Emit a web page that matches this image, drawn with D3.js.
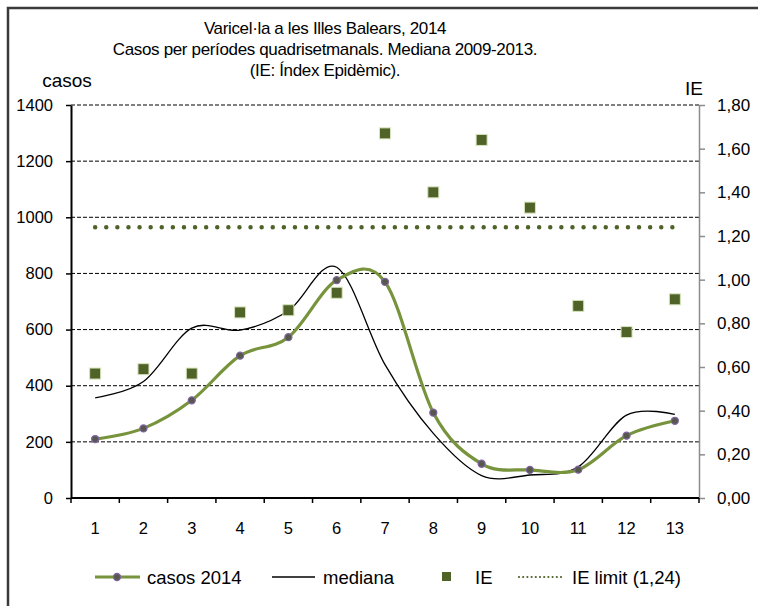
<!DOCTYPE html>
<html>
<head>
<meta charset="utf-8">
<script src="https://cdn.jsdelivr.net/npm/d3@7"></script>
<style>
  body { margin: 0; background: #fff; }
  text { font-family: "Liberation Sans", Arial, sans-serif; fill: #000; }
</style>
</head>
<body>
<div id="chart"></div>
<script>
// periods (4-week) and values
var periodes = ["1","2","3","4","5","6","7","8","9","10","11","12","13"];
var casos2014 = [210, 248, 348, 507, 573, 776, 770, 304, 122, 100, 101, 222, 275];
var mediana = [357, 415, 605, 598, 667, 822, 475, 230, 80, 82, 111, 295, 298];
var ie = [0.57, 0.59, 0.57, 0.85, 0.86, 0.94, 1.67, 1.40, 1.64, 1.33, 0.88, 0.76, 0.91];
var ieLimit = 1.24;
var casosTicks = [0, 200, 400, 600, 800, 1000, 1200, 1400];
var ieTicks = [0, 0.2, 0.4, 0.6, 0.8, 1.0, 1.2, 1.4, 1.6, 1.8];
var titleLines = ["Varicel·la a les Illes Balears, 2014",
  "Casos per períodes quadrisetmanals. Mediana 2009-2013.",
  "(IE: Índex Epidèmic)."];

(function() {
  var width = 758,
     height = 606;
  var left = 71, right = 699, top = 105, bottom = 498;

  var green = "#77933c", olive = "#4f6228", purple = "#8064a2";

  var svg = d3.select("#chart")
  .append("svg")
  .attr("width", width)
  .attr("height", height);

  // outer frame
  svg.append("rect")
  .attr("x", 8).attr("y", 8)
  .attr("width", 800).attr("height", 700)
  .attr("fill", "none")
  .attr("stroke", "#3a3a3a")
  .attr("stroke-width", 2.5);

  var x = d3.scaleBand().domain(periodes).range([left, right]);
  var cx = function(d) { return x(d) + x.bandwidth() / 2; };
  var y = d3.scaleLinear().domain([0, 1400]).range([bottom, top]);
  var y2 = d3.scaleLinear().domain([0, 1.8]).range([bottom, top]);

  // title
  svg.append("g").selectAll("text")
  .data(titleLines)
  .enter()
  .append("text")
  .attr("x", 325)
  .attr("y", function(d, i) { return 34 + i * 21; })
  .attr("text-anchor", "middle")
  .attr("font-size", 17)
  .attr("letter-spacing", -0.35)
  .text(function(d) { return d; });

  svg.append("text").attr("x", 67).attr("y", 87)
  .attr("text-anchor", "middle").attr("font-size", 19).text("casos");
  svg.append("text").attr("x", 694).attr("y", 95)
  .attr("text-anchor", "middle").attr("font-size", 19).text("IE");

  // gridlines
  svg.append("g").selectAll("line")
  .data(casosTicks.filter(function(d) { return d > 0; }))
  .enter()
  .append("line")
  .attr("x1", left).attr("x2", right)
  .attr("y1", function(d) { return y(d); })
  .attr("y2", function(d) { return y(d); })
  .attr("stroke", "#000")
  .attr("stroke-width", 1)
  .attr("stroke-dasharray", "4,2");

  // right axis (IE)
  var axR = svg.append("g")
  .attr("transform", "translate(" + right + ",0)")
  .call(d3.axisRight(y2).tickValues(ieTicks).tickSize(6).tickSizeOuter(0).tickPadding(12)
    .tickFormat(function(d) { return d.toFixed(2).replace(".", ","); }));
  axR.select(".domain").attr("stroke", "#8c8c8c").attr("stroke-width", 1.5);
  axR.selectAll(".tick line").attr("stroke", "#8c8c8c").attr("stroke-width", 1.5);
  axR.selectAll("text").attr("font-size", 17).attr("font-family", "Liberation Sans, Arial, sans-serif");

  // left axis
  var axL = svg.append("g")
  .attr("transform", "translate(" + left + ",0)")
  .call(d3.axisLeft(y).tickValues(casosTicks).tickSize(5).tickSizeOuter(0).tickPadding(13)
    .tickFormat(d3.format("d")));
  axL.select(".domain").attr("stroke", "#000").attr("stroke-width", 2);
  axL.selectAll(".tick line").attr("stroke-width", 1.5);
  axL.selectAll("text").attr("font-size", 16.5).attr("font-family", "Liberation Sans, Arial, sans-serif");

  // bottom axis: labels centred, ticks at band edges
  var axB = svg.append("g")
  .attr("transform", "translate(0," + bottom + ")")
  .call(d3.axisBottom(x).tickSize(0).tickPadding(24));
  axB.select(".domain").remove();
  axB.selectAll("text").attr("font-size", 16.5).attr("font-family", "Liberation Sans, Arial, sans-serif");
  var edges = periodes.map(function(d) { return x(d); }).concat([x.range()[1]]);
  svg.append("g").selectAll("line")
  .data(edges)
  .enter()
  .append("line")
  .attr("x1", function(d) { return d; }).attr("x2", function(d) { return d; })
  .attr("y1", bottom).attr("y2", bottom + 5)
  .attr("stroke", "#000").attr("stroke-width", 1.5);
  svg.append("line")
  .attr("x1", left).attr("x2", right)
  .attr("y1", bottom).attr("y2", bottom)
  .attr("stroke", "#000").attr("stroke-width", 2);

  // IE limit dotted line
  svg.append("line")
  .attr("x1", cx(periodes[0])).attr("x2", cx(periodes[periodes.length - 1]))
  .attr("y1", y2(ieLimit)).attr("y2", y2(ieLimit))
  .attr("stroke", olive)
  .attr("stroke-width", 4.5)
  .attr("stroke-linecap", "round")
  .attr("stroke-dasharray", "0,11.1");

  // mediana line
  var smooth = d3.line()
  .x(function(d, i) { return cx(periodes[i]); })
  .y(function(d) { return y(d); })
  .curve(d3.curveCardinal.tension(0));
  svg.append("path")
  .attr("d", smooth(mediana))
  .attr("fill", "none")
  .attr("stroke", "#000")
  .attr("stroke-width", 1.3);

  // IE squares
  svg.append("g").selectAll("rect")
  .data(ie)
  .enter()
  .append("rect")
  .attr("x", function(d, i) { return cx(periodes[i]) - 5.5; })
  .attr("y", function(d) { return y2(d) - 5.5; })
  .attr("width", 11).attr("height", 11)
  .attr("fill", olive)
  .attr("stroke", "#d7e4bd")
  .attr("stroke-width", 1);

  // casos 2014 line + markers
  svg.append("path")
  .attr("d", smooth(casos2014))
  .attr("fill", "none")
  .attr("stroke", green)
  .attr("stroke-width", 3.2);
  svg.append("g").selectAll("circle")
  .data(casos2014)
  .enter()
  .append("circle")
  .attr("cx", function(d, i) { return cx(periodes[i]); })
  .attr("cy", function(d) { return y(d); })
  .attr("r", 3.5)
  .attr("fill", "#55584a")
  .attr("stroke", purple)
  .attr("stroke-width", 1.3);

  // legend
  var ly = 577;
  var leg = svg.append("g").attr("font-size", 18.5);
  leg.append("line").attr("x1", 95).attr("x2", 140).attr("y1", ly).attr("y2", ly)
  .attr("stroke", green).attr("stroke-width", 3.2);
  leg.append("circle").attr("cx", 117).attr("cy", ly).attr("r", 3.5)
  .attr("fill", "#55584a").attr("stroke", purple).attr("stroke-width", 1.3);
  leg.append("text").attr("x", 147).attr("y", ly + 7).text("casos 2014");

  leg.append("line").attr("x1", 272).attr("x2", 315).attr("y1", ly).attr("y2", ly)
  .attr("stroke", "#000").attr("stroke-width", 1.3);
  leg.append("text").attr("x", 323).attr("y", ly + 7).text("mediana");

  leg.append("rect").attr("x", 442).attr("y", ly - 5).attr("width", 9).attr("height", 9)
  .attr("fill", olive);
  leg.append("text").attr("x", 475).attr("y", ly + 7).text("IE");

  leg.append("line").attr("x1", 519).attr("x2", 564).attr("y1", ly).attr("y2", ly)
  .attr("stroke", olive).attr("stroke-width", 2.2)
  .attr("stroke-linecap", "round")
  .attr("stroke-dasharray", "0,4.2");
  leg.append("text").attr("x", 572).attr("y", ly + 7).text("IE limit (1,24)");
})();
</script>
</body>
</html>
